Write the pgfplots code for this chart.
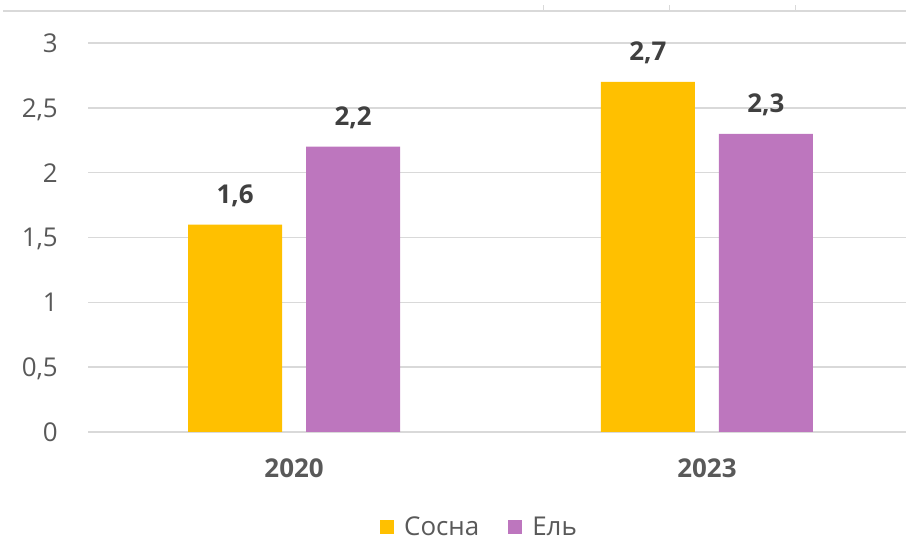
\documentclass[border=0pt]{standalone}
\usepackage{pgfplots}
\pgfplotsset{compat=1.18}
\usepackage{fontspec}
\setmainfont{Open Sans}
\definecolor{sosna}{HTML}{FFC000}
\definecolor{el}{HTML}{BD76BE}
\definecolor{gridc}{HTML}{D9D9D9}
\definecolor{txt}{HTML}{595959}
\definecolor{lbl}{HTML}{404040}
\begin{document}
\begin{tikzpicture}[x=1bp,y=1bp]
\path[use as bounding box] (0,0) rectangle (906,543);
\draw[gridc, line width=2bp] (3,532) -- (906,532);
\foreach \xx in {543,669,795} {\draw[gridc, line width=1bp] (\xx,532) -- (\xx,538);}
\begin{axis}[
  at={(88bp,111bp)}, anchor=south west,
  scale only axis, width=818bp, height=389bp,
  xmin=-0.499, xmax=1.482, ymin=0, ymax=3,
  clip=false,
  axis line style={draw=none},
  major tick length=0pt,
  ytick={0,0.5,1,1.5,2,2.5,3},
  ymajorgrids, grid style={color=gridc, line width=1.5bp},
  xtick={0,1}, xticklabels={2020,2023},
  /pgf/number format/assume math mode=true,
  /pgf/number format/use comma,
  yticklabel style={font=\fontsize{26}{30}\selectfont, text=txt, anchor=base east, inner sep=0pt, xshift=-30bp, yshift=-9.5bp},
  xticklabel style={font=\fontsize{26}{30}\selectfont\bfseries, text=txt, anchor=base, inner sep=0pt, yshift=-46bp},
  ybar, bar width=94bp,
  nodes near coords,
  every node near coord/.append style={font=\fontsize{26}{30}\selectfont\bfseries, text=lbl, anchor=base, inner sep=0pt, yshift=21bp},
  legend style={at={(0.478,-0.245)}, anchor=center, draw=none, fill=none, inner sep=0pt,
    font=\fontsize{26}{30}\selectfont, text=txt, legend columns=2,
    nodes={inner sep=1bp},
    /tikz/every odd column/.append style={column sep=9bp},
    /tikz/every even column/.append style={column sep=28bp}},
  legend image code/.code={\fill[#1] (0bp,-7bp) rectangle (14bp,7bp);},
]
\addplot[fill=sosna, draw=none, bar shift=-59bp] coordinates {(0,1.6) (1,2.7)};
\addplot[fill=el, draw=none, bar shift=59bp] coordinates {(0,2.2) (1,2.3)};
\legend{Сосна, Ель}
\end{axis}
\end{tikzpicture}
\end{document}
